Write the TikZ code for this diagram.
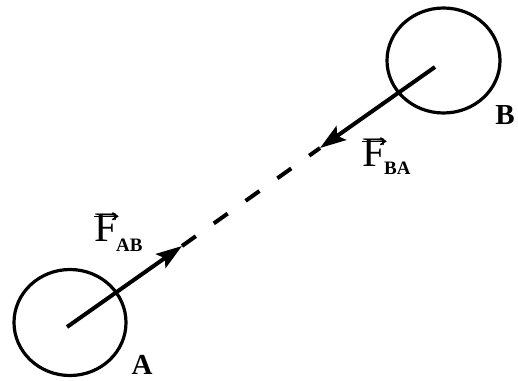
\documentclass[tikz,border=0pt]{standalone}
\usepackage{fontspec}
\setmainfont{Liberation Serif}
\usetikzlibrary{arrows.meta}
\begin{document}
\begin{tikzpicture}[x=1pt,y=-1pt,
  body/.style={line width=3.2pt},
  force/.style={line width=4pt,-{Stealth[length=26pt,width=17pt,inset=5pt]}},
  dashline/.style={line width=4pt,dash pattern=on 17pt off 22pt},
  fletter/.style={inner sep=0pt,anchor=base west,font=\fontsize{42}{42}\selectfont},
  sub/.style={inner sep=0pt,anchor=base west,font=\bfseries\fontsize{19}{19}\selectfont},
  lbl/.style={inner sep=0pt,anchor=base,font=\bfseries\fontsize{29}{29}\selectfont},
  vecarrow/.style={line width=1.6pt,-{Straight Barb[length=5pt,width=7pt]}}]
\useasboundingbox (0,0) rectangle (518,380);
% bodies
\coordinate (cA) at (70,322.5);
\coordinate (cB) at (443.5,60.5);
\draw[body] (cA) ellipse [x radius=56, y radius=53];
\draw[body] (cB) ellipse [x radius=56.5, y radius=52.5];
% force arrows
\coordinate (a0) at (67,327);
\coordinate (a1) at (182,246);
\coordinate (b0) at (435,67);
\coordinate (b1) at (320,148);
\draw[dashline] (a1) -- (b1);
\draw[force] (a0) -- (a1);
\draw[force] (b0) -- (b1);
% labels
\node[lbl] (A) at (142,374) {A};
\node[lbl] (B) at (505,124) {B};
\node[fletter] (FAB) at (94,241) {F};
\node[sub] (sAB) at (116,251) {AB};
\draw[vecarrow] ([yshift=-3pt]FAB.north west) -- ([yshift=-3pt,xshift=1pt]FAB.north east);
\node[fletter] (FBA) at (362,166) {F};
\node[sub] (sBA) at (384,174) {BA};
\draw[vecarrow] ([yshift=-3pt]FBA.north west) -- ([yshift=-3pt,xshift=1pt]FBA.north east);
\end{tikzpicture}
\end{document}
